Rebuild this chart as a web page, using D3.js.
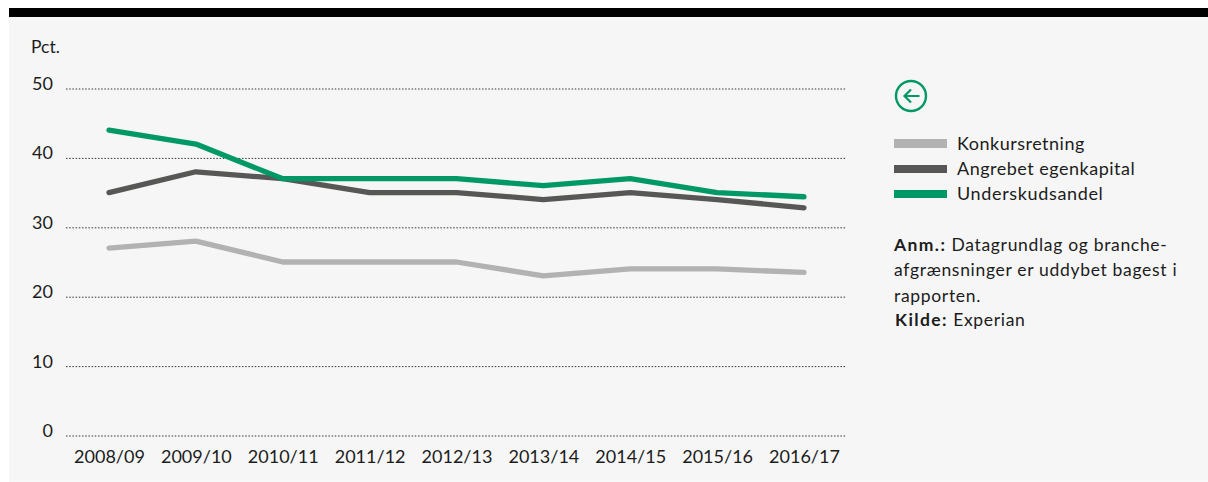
<!DOCTYPE html>
<html><head><meta charset="utf-8">
<script src="https://cdn.jsdelivr.net/npm/d3@7"></script>
<style>html,body{margin:0;padding:0;background:#fff}svg{display:block}text{font-family:Lato,sans-serif;fill:#1c1c1c}</style>
</head><body><div id="c"></div>
<script>
const categories=["2008/09","2009/10","2010/11","2011/12","2012/13","2013/14","2014/15","2015/16","2016/17"];
const konkursretning=[27,28,25,25,25,23,24,24,23.5];
const angrebetEgenkapital=[35,38,37,35,35,34,35,34,32.8];
const underskudsandel=[44,42,37,37,37,36,37,35,34.4];
const yTicks=[0,10,20,30,40,50];
const seriesNames=["Konkursretning","Angrebet egenkapital","Underskudsandel"];
const seriesColors=["#b2b2b2","#575756","#009966"];
const seriesValues=[konkursretning,angrebetEgenkapital,underskudsandel];
const noteLines=[[["Anm.:",true],[" Datagrundlag og branche-",false]],[["afgrænsninger er uddybet bagest i",false]],[["rapporten.",false]],[["Kilde:",true],[" Experian",false]]];

const W=1208,H=482;
const svg=d3.select("#c").append("svg").attr("width",W).attr("height",H);
svg.append("rect").attr("x",9).attr("y",8).attr("width",W-9).attr("height",474-0.3).attr("fill","#f6f6f6");
svg.append("rect").attr("x",9).attr("y",8).attr("width",W-9).attr("height",9).attr("fill","#000");

const x=d3.scalePoint().domain(categories).range([109,804]);
const y=d3.scaleLinear().domain([0,50]).range([435.5,88.5]);

const gy=svg.append("g").attr("transform","translate(66,0)")
 .call(d3.axisLeft(y).tickValues(yTicks).tickSize(-780).tickPadding(13).tickFormat(d3.format("d")));
gy.select(".domain").remove();
gy.selectAll(".tick line").attr("stroke","#333").attr("stroke-width",1).attr("stroke-dasharray","1.5 1.7");
gy.selectAll(".tick text").attr("font-size",18).attr("dy","0.05em").attr("fill","#1c1c1c");

const gx=svg.append("g").attr("transform","translate(0,449)")
 .call(d3.axisBottom(x).tickSize(0).tickPadding(0));
gx.select(".domain").remove();
gx.selectAll(".tick text").attr("font-size",18).attr("dy","0.8em").attr("fill","#1c1c1c");

svg.append("text").attr("x",31).attr("y",52.5).attr("font-size",17.5).text("Pct.");

const line=d3.line().x((d,i)=>x(categories[i])).y(d=>y(d));
svg.selectAll("path.s").data(seriesValues).enter().append("path").attr("class","s")
 .attr("d",line).attr("fill","none").attr("stroke",(d,i)=>seriesColors[i])
 .attr("stroke-width",5.3).attr("stroke-linecap","round").attr("stroke-linejoin","round");

seriesNames.forEach((n,i)=>{
 const top=[139,165,190][i], h=[9,8,8][i];
 svg.append("rect").attr("x",894).attr("y",top).attr("width",53).attr("height",h).attr("fill",seriesColors[i]);
 svg.append("text").attr("x",957).attr("y",[150,175,200][i]).attr("font-size",18).attr("letter-spacing",[0.5,0.5,0.65][i]).text(n);
});

const ic=svg.append("g").attr("fill","none").attr("stroke","#009966");
ic.append("circle").attr("cx",911).attr("cy",96).attr("r",15).attr("stroke-width",2.4);
ic.append("path").attr("d","M919.5 96H904M911 89.5L904.5 96L911 102.5").attr("stroke-width",2.2);

noteLines.forEach((l,i)=>{
 const t=svg.append("text").attr("x",i==3?895:894).attr("y",[251,276,302,326][i]).attr("font-size",17.5).attr("letter-spacing",0.68).attr("xml:space","preserve");
 l.forEach(([s,b])=>t.append("tspan").attr("font-weight",b?700:400).attr("letter-spacing",b?1.4:0.68).text(s));
});
</script></body></html>
